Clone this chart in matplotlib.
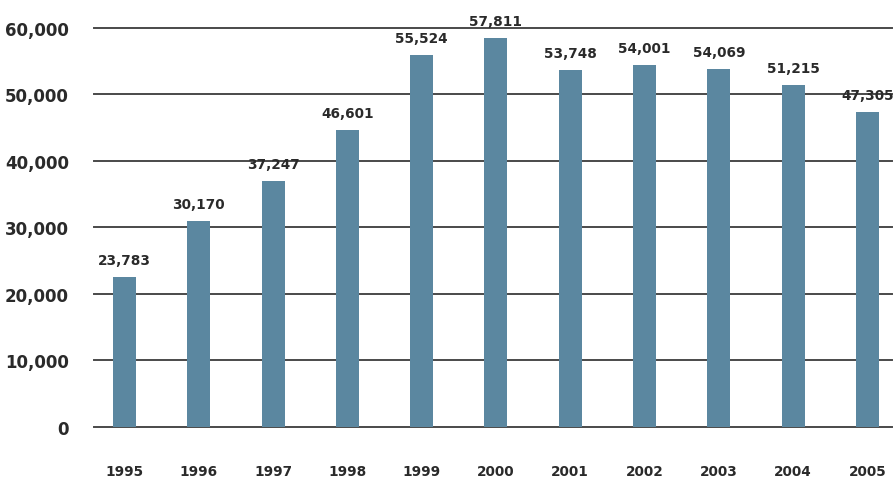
import matplotlib.pyplot as plt

# Data
years = ['1995', '1996', '1997', '1998', '1999', '2000',
         '2001', '2002', '2003', '2004', '2005']
heights = [22540, 31020, 37000, 44680, 55980, 58540,
           53720, 54470, 53870, 51460, 47390]
labels = ['23,783', '30,170', '37,247', '46,601', '55,524', '57,811',
          '53,748', '54,001', '54,069', '51,215', '47,305']
yticks = [0, 10000, 20000, 30000, 40000, 50000, 60000]
ytick_labels = ['0', '10,000', '20,000', '30,000', '40,000', '50,000', '60,000']

bar_color = '#5b87a0'
text_color = '#2a2a2a'

plt.rcParams['font.family'] = ['DejaVu Sans']

fig = plt.figure(figsize=(8.94, 4.81), dpi=100)
ax = fig.add_axes([94/894, (481-427.7)/481, (892-94)/894, (427.7-29)/481])

x = list(range(len(years)))
ax.set_xlim(-0.41, 10.33)
ax.set_ylim(0, 60000)

for yv in yticks:
    ax.axhline(yv, color='#4a4a4a', lw=1.4, zorder=1, clip_on=False)

ax.bar(x, heights, width=0.31, color=bar_color, zorder=2)

for xi, h, lab in zip(x, heights, labels):
    ax.annotate(lab, (xi, h), xytext=(0, 7), textcoords='offset points',
                ha='center', va='bottom', fontsize=9.8, fontweight='bold',
                color=text_color)

ax.set_yticks(yticks)
ax.set_yticklabels(ytick_labels, fontsize=12, fontweight='bold', color=text_color)
ax.set_xticks(x)
ax.set_xticklabels(years, fontsize=9.8, fontweight='bold', color=text_color)
ax.tick_params(axis='both', length=0)
ax.tick_params(axis='y', pad=18)
ax.tick_params(axis='x', pad=27)

for s in ax.spines.values():
    s.set_visible(False)

fig.savefig('out.png', dpi=100)
